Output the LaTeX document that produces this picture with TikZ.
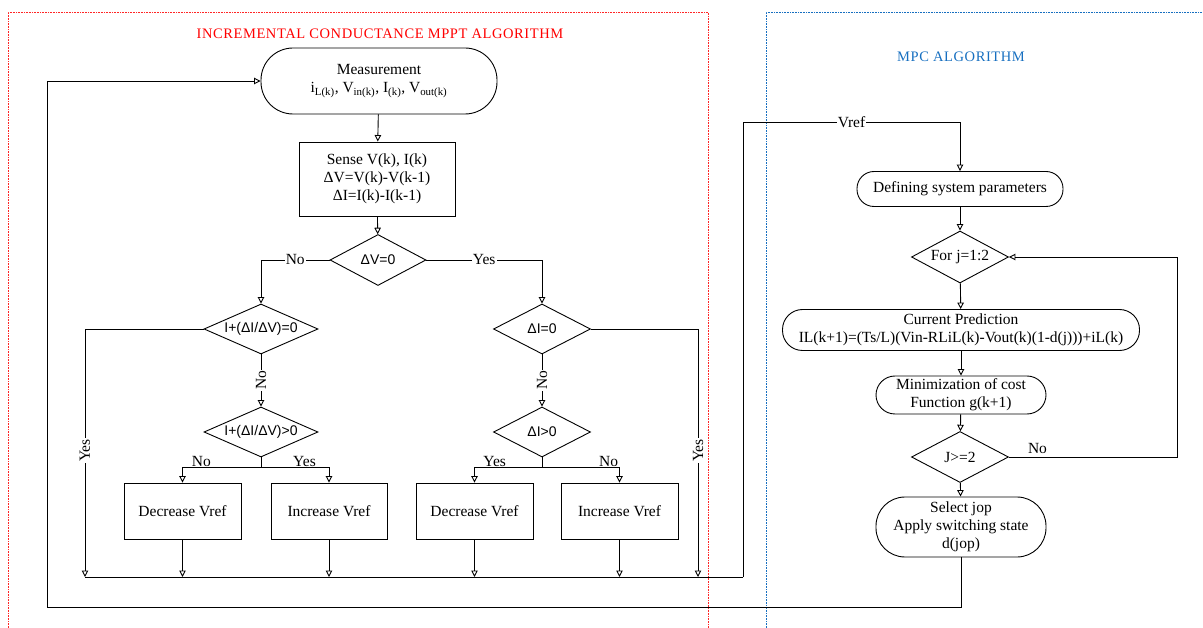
\documentclass[tikz,border=0pt]{standalone}
\usepackage{fontspec}
\setmainfont{Liberation Serif}
\newfontfamily\arialfont{Liberation Sans}
\usetikzlibrary{arrows.meta, shapes.geometric}

\begin{document}
\begin{tikzpicture}[x=1pt, y=-1pt,
		>={Triangle[open, length=6.5pt, width=6.5pt]},   % offene Pfeilspitzen
		font=\fontsize{15.5}{18}\selectfont, line width=0.9pt,
		term/.style={draw, rectangle, rounded corners=#1, align=center, inner sep=2pt},
		blk/.style={draw, rectangle, align=center, inner sep=2pt},
		dec/.style={draw, diamond, aspect=2, inner sep=0pt, align=center},
		sf/.style={font=\fontsize{14}{16}\selectfont\arialfont},
		lbl/.style={fill=white, inner sep=1pt},
		ttl/.style={font=\fontsize{14.5}{16}\selectfont\addfontfeature{LetterSpace=4}}]
		% Bildbereich
		\useasboundingbox (0,0) rectangle (1203,628);
		% Rahmen der beiden Teile
		\draw[red!85, densely dotted, line width=0.6pt] (8,628) -- (8,12) -- (708,12) -- (708,628);
		\draw[cyan!50!blue, densely dotted, line width=0.6pt] (766,628) -- (766,12) -- (1203,12);
		\node[ttl, text=red] (ttlinc) at (380,34) {INCREMENTAL CONDUCTANCE MPPT ALGORITHM};
		\node[ttl, text=cyan!50!blue] (ttlmpc) at (961,57) {MPC ALGORITHM};
		% Inkrementelle Leitwertmethode
		\node[term=32pt, minimum width=236, minimum height=66] (meas) at (379,81)
			{Measurement\\ i\textsubscript{L(k)}, V\textsubscript{in(k)}, I\textsubscript{(k)}, V\textsubscript{out(k)}};
		\node[blk, minimum width=156, minimum height=74] (sense) at (377,179)
			{Sense V(k), I(k)\\ ΔV=V(k)-V(k-1)\\ ΔI=I(k)-I(k-1)};
		\node[dec, sf, minimum width=96, minimum height=51] (dv) at (378,260) {ΔV=0};
		\node[dec, sf, minimum width=114, minimum height=50] (cz) at (261,329) {I+(ΔI/ΔV)=0};
		\node[dec, sf, minimum width=114, minimum height=50] (cp) at (261,432) {I+(ΔI/ΔV)>0};
		\node[dec, sf, minimum width=97, minimum height=50] (iz) at (542,329) {ΔI=0};
		\node[dec, sf, minimum width=97, minimum height=50] (ip) at (542,432) {ΔI>0};
		\node[blk, minimum width=117, minimum height=56] (decl) at (182.5,511) {Decrease Vref};
		\node[blk, minimum width=116, minimum height=56] (incl) at (329,511) {Increase Vref};
		\node[blk, minimum width=117, minimum height=56] (decr) at (474.5,511) {Decrease Vref};
		\node[blk, minimum width=117, minimum height=56] (incr) at (619.5,511) {Increase Vref};
		% Hilfspunkte
		\coordinate (sl) at (261,467);
		\coordinate (sr) at (542,467);
		\coordinate (yl) at (85,577);
		\coordinate (yr) at (698,577);
		\coordinate (cr) at (743,577);
		\coordinate (vt) at (960,122);
		\coordinate (fb) at (47,607);
		\coordinate (nr) at (1177,457);
		% MPC
		\node[term=17pt, minimum width=206, minimum height=35] (defp) at (960,189) {Defining system parameters};
		\node[dec, minimum width=97, minimum height=52] (forj) at (960,257) {For j=1:2};
		\node[term=20pt, minimum width=357, minimum height=41] (pred) at (961,330)
			{Current Prediction\\ IL(k+1)=(Ts/L)(Vin-RLiL(k)-Vout(k)(1-d(j)))+iL(k)};
		\node[term=19pt, minimum width=170, minimum height=38] (mini) at (961,395)
			{Minimization of cost\\ Function g(k+1)};
		\node[dec, minimum width=97, minimum height=51] (jge) at (960,457) {J>=2};
		\node[term=29pt, minimum width=170, minimum height=60] (sel) at (961,527)
			{Select jop\\ Apply switching state\\ d(jop)};
		% Verbindungen
		\draw[->] (meas) -- (sense);
		\draw[->] (sense) -- (dv);
		\draw[->] (dv.west) -| node[lbl, pos=0.25] {No} (cz.north);
		\draw[->] (dv.east) -| node[lbl, pos=0.25] {Yes} (iz.north);
		\draw[->] (cz) -- node[lbl, rotate=90] {No} (cp);
		\draw[->] (iz) -- node[lbl, rotate=90] {No} (ip);
		\draw[->] (cz.west) -| node[lbl, rotate=90, pos=0.745] {Yes} (yl);
		\draw[->] (iz.east) -| node[lbl, rotate=90, pos=0.745] {Yes} (yr);
		\draw (cp.south) -- (sl);
		\draw (ip.south) -- (sr);
		\draw[->] (sl) -| node[above, inner sep=0pt, pos=0.38] {No} (decl.north);
		\draw[->] (sl) -| node[above, inner sep=0pt, pos=0.32] {Yes} (incl.north);
		\draw[->] (sr) -| node[above, inner sep=0pt, pos=0.35] {Yes} (decr.north);
		\draw[->] (sr) -| node[above, inner sep=0pt, pos=0.43] {No} (incr.north);
		\foreach \n in {decl, incl, decr, incr} \draw[->] (\n) -- (\n |- cr);
		\draw (yl) -- (cr);
		\draw[->] (cr) |- node[lbl, pos=0.75] {Vref} (vt) -- (defp);
		\draw[->] (defp) -- (forj);
		\draw[->] (forj) -- (pred);
		\draw[->] (pred) -- (mini);
		\draw[->] (mini) -- (jge);
		\draw[->] (jge) -- (sel);
		\draw[->] (jge.east) -- node[above, pos=0.17] {No} (nr) |- (forj.east);
		\draw[->] (sel) |- (fb) |- (meas.west);
	\end{tikzpicture}
\end{document}
